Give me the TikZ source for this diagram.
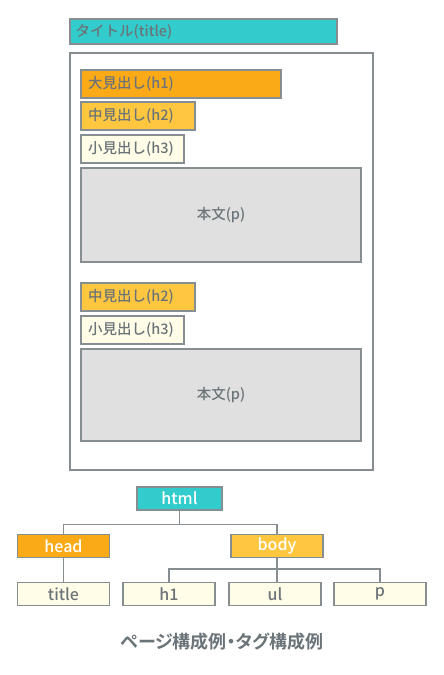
\documentclass[tikz,border=0pt]{standalone}
\usepackage{fontspec}
\setmainfont{Noto Sans CJK JP Medium}
\newfontfamily\jpbold{Noto Sans CJK JP Bold}[RawFeature=+palt]
\definecolor{teal1}{HTML}{33CCCC}
\definecolor{orange1}{HTML}{FBAA17}
\definecolor{yellow1}{HTML}{FFC73F}
\definecolor{cream1}{HTML}{FFFDE8}
\definecolor{grey1}{HTML}{DFE0DF}
\definecolor{edge1}{HTML}{868E92}
\definecolor{txt1}{HTML}{6B7478}
\tikzset{
  box/.style={draw=edge1, line width=1.2pt, inner sep=0pt},
  lbl/.style={text=txt1, font=\fontsize{14.5}{15}\selectfont, anchor=west, inner sep=0pt},
  tlbl/.style={font=\fontsize{16}{17}\selectfont, inner sep=0pt},
  link/.style={draw=edge1, line width=1.2pt},
}
\begin{document}
\begin{tikzpicture}[x=1pt,y=-1pt]
\useasboundingbox (0,0) rectangle (444,675);
% page mock-up
\path[box, fill=teal1] (70,19) rectangle (337,44);
\node[lbl] (ttl) at (75.5,31.5) {タイトル(title)};
\path[box, fill=white] (70,53) rectangle (373,470);
\path[box, fill=orange1] (81,70) rectangle (281,98);
\node[lbl] (h1a) at (88,84) {大見出し(h1)};
\path[box, fill=yellow1] (81,102) rectangle (195,130);
\node[lbl] (h2a) at (88,116) {中見出し(h2)};
\path[box, fill=cream1] (81,135) rectangle (184,163);
\node[lbl] (h3a) at (88,149) {小見出し(h3)};
\path[box, fill=grey1] (81,168) rectangle (361,262);
\node[lbl, anchor=center] (pa) at (221,215) {本文(p)};
\path[box, fill=yellow1] (81,283) rectangle (195,311);
\node[lbl] (h2b) at (88,297) {中見出し(h2)};
\path[box, fill=cream1] (81,316) rectangle (184,344);
\node[lbl] (h3b) at (88,330) {小見出し(h3)};
\path[box, fill=grey1] (81,349) rectangle (361,441);
\node[lbl, anchor=center] (pb) at (221,395) {本文(p)};
% tree
\tikzset{tn/.style={box, minimum width=92pt, minimum height=23pt, tlbl}}
\node[tn, fill=teal1, text=white, minimum width=85pt] (html) at (179.5,498.5) {html};
\node[tn, fill=orange1, text=white] (head) at (63.5,546) {head};
\node[tn, fill=yellow1, text=white] (body) at (277,546) {body};
\node[tn, fill=cream1, text=txt1] (title) at (63.5,594) {title};
\node[tn, fill=cream1, text=txt1] (th1) at (169,594) {h1};
\node[tn, fill=cream1, text=txt1] (ul) at (275,594) {ul};
\node[tn, fill=cream1, text=txt1] (tp) at (380,594) {p};
\draw[link] (html.south) -- ++(0,14) -| (head.north);
\draw[link] (html.south) -- ++(0,14) -| (body.north);
\draw[link] (head.south) -- (title.north);
\draw[link] (body.south) -- (body.south |- 0,569) -| (th1.north);
\draw[link] (body.south |- 0,569) -| (tp.north);
\draw[link] (body.south |- 0,569) -- (body.south |- ul.north);
\node[text=txt1, font=\jpbold\fontsize{18}{19}\selectfont, inner sep=0pt] (cap) at (222,642) {ページ構成例・タグ構成例};
\end{tikzpicture}
\end{document}
